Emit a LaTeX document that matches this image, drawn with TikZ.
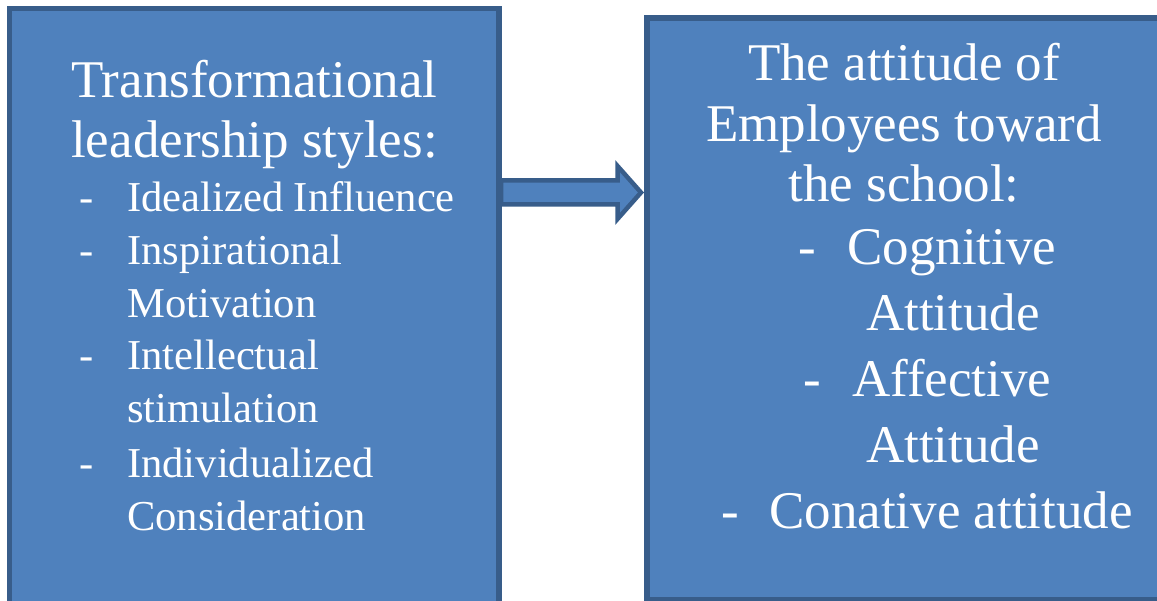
\documentclass[tikz,border=0pt]{standalone}
\usepackage{fontspec}
\setmainfont{Liberation Serif}
\usetikzlibrary{calc}
\usetikzlibrary{positioning}

\definecolor{boxfill}{HTML}{4F81BD}
\definecolor{boxline}{HTML}{385D8A}

\tikzset{
  panel/.style   = {draw=boxline, fill=boxfill, line width=5.5pt, inner sep=0pt, outer sep=0pt, anchor=north west},
  heading/.style = {text=white, font=\fontsize{53}{61}\selectfont, inner sep=0pt, anchor=base},
  entry/.style   = {text=white, font=\fontsize{42.6}{53}\selectfont, inner sep=0pt, anchor=base west},
  bigentry/.style= {text=white, font=\fontsize{53}{66}\selectfont, inner sep=0pt, anchor=base west},
  blockarrow/.style = {draw=boxline, fill=boxfill, line width=4.5pt, line join=miter}
}

\begin{document}
\begin{tikzpicture}[x=1pt, y=-1pt]
        \useasboundingbox (0, 0) rectangle (1157, 601);
        \clip (0, 0) rectangle (1157, 601);

        % the two boxes
        \node[panel, minimum width=489.5pt, minimum height=640pt] (lead) at (9.5, 8.5) {};
        \node[panel, minimum width=530pt,   minimum height=582pt] (att)  at (647, 18)  {};

        % block arrow between them
        \coordinate (tail) at ($(lead.north east) + (2, 184)$);
        \coordinate (tip)  at ($(att.north west)  + (-6, 174.5)$);
        \draw[blockarrow] ($(tail) + (0, -12)$) -- ($(tip) + (-23.5, -12)$)
                       -- ($(tip) + (-23.5, -26.5)$) -- (tip)
                       -- ($(tip) + (-23.5, 26.5)$)  -- ($(tip) + (-23.5, 12)$)
                       -- ($(tail) + (0, 12)$) -- cycle;

        % left box text
        \node[heading] (l1) at (254.5, 97.7) {Transformational};
        \node[heading] (l2) at (254.5, 158)  {leadership styles:};

        \node[entry] (d1) at (79, 211.7)  {-};
        \node[entry] (a1) at (127, 211.7) {Idealized Influence};
        \node[entry] (d2) at (79, 265)    {-};
        \node[entry] (a2) at (127, 265)   {Inspirational};
        \node[entry] (a3) at (127, 317.7) {Motivation};
        \node[entry] (d3) at (79, 370)    {-};
        \node[entry] (a4) at (127, 370)   {Intellectual};
        \node[entry] (a5) at (127, 422.7) {stimulation};
        \node[entry] (d4) at (79, 477.3)  {-};
        \node[entry] (a6) at (127, 477.3) {Individualized};
        \node[entry] (a7) at (127, 530.7) {Consideration};

        % right box text
        \node[heading] (r1) at (904, 80.7)  {The attitude of};
        \node[heading] (r2) at (904, 141.7) {Employees toward};
        \node[heading] (r3) at (904, 201.7) {the school:};

        \node[bigentry] (e1) at (798, 265)   {-};
        \node[bigentry] (b1) at (847, 265)   {Cognitive};
        \node[bigentry] (b2) at (866, 330.7) {Attitude};
        \node[bigentry] (e2) at (803, 396.7) {-};
        \node[bigentry] (b3) at (852, 396.7) {Affective};
        \node[bigentry] (b4) at (866, 462.7) {Attitude};
        \node[bigentry] (e3) at (721, 528.3) {-};
        \node[bigentry] (b5) at (769, 528.3) {Conative attitude};
\end{tikzpicture}
\end{document}
